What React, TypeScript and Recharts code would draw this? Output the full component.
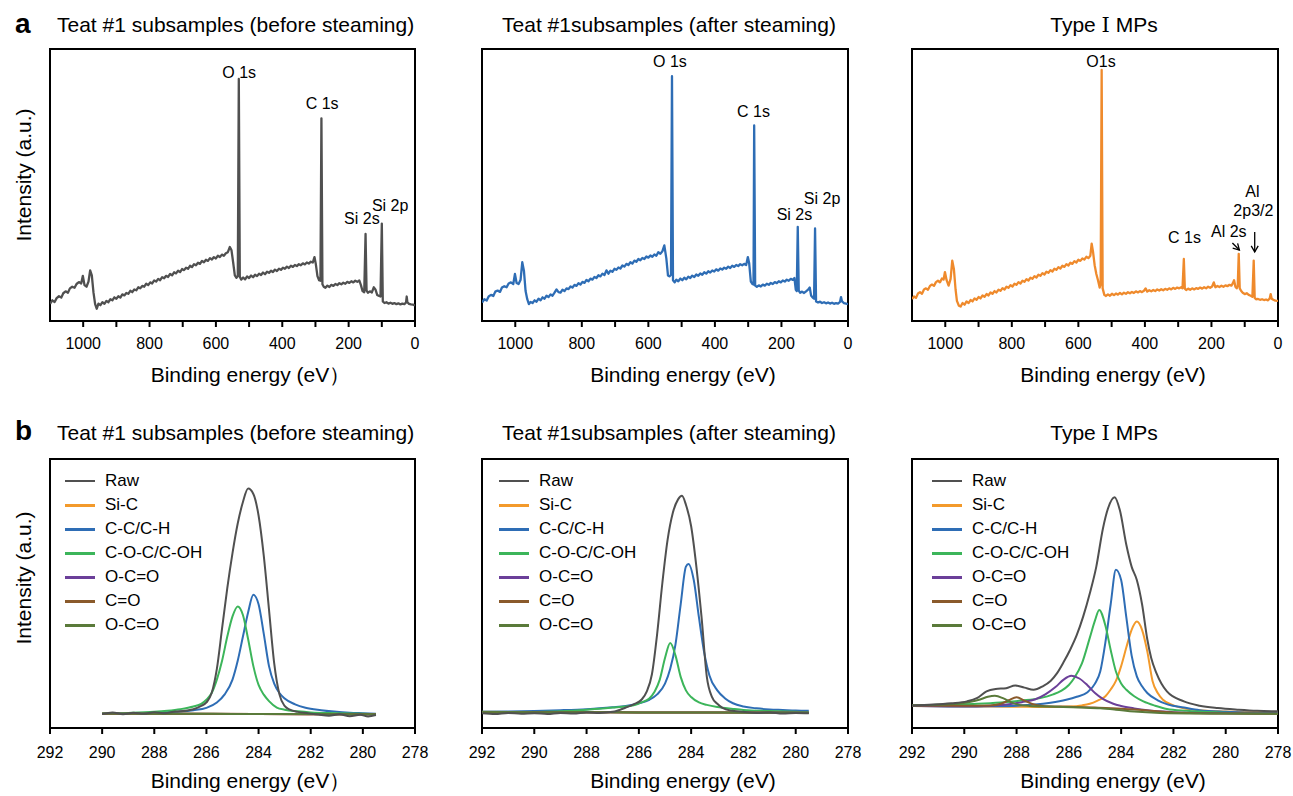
import React from "react";
import {
  LineChart,
  Line,
  XAxis,
  YAxis,
  ReferenceArea,
  ReferenceDot,
  Legend,
} from "recharts";

type Pt = [number, number];

// survey spectra (binding energy eV, relative intensity 0-100 of frame)
const surveyTicks = [1000, 900, 800, 700, 600, 500, 400, 300, 200, 100, 0];
const coreTicks = [292, 290, 288, 286, 284, 282, 280, 278];

const surveyBefore: Pt[] = [
  [1100, 6.3], [1093, 7.6], [1086, 7.0], [1080, 8.4], [1073, 9.1], [1066, 8.6], [1060, 10.2], [1053, 10.9],
  [1046, 10.4], [1040, 12.0], [1033, 12.6], [1026, 12.2], [1020, 13.6], [1013, 14.3], [1006, 13.8], [1001, 16.6],
  [996, 13.2], [990, 12.6], [984, 14.5], [979, 18.6], [974, 16.8], [969, 10.5], [964, 6.2], [959, 4.5],
  [954, 6.4], [948, 5.8], [942, 6.9], [936, 6.3], [930, 7.4], [924, 6.9], [918, 8.0], [912, 7.6], [906, 8.7],
  [900, 8.2], [894, 9.1], [888, 8.6], [882, 9.8], [876, 9.4], [870, 10.3], [864, 10.0], [858, 11.1], [852, 10.6],
  [846, 11.6], [840, 11.3], [834, 12.4], [828, 12.0], [822, 12.9], [816, 12.6], [810, 13.7], [804, 13.2],
  [798, 14.2], [792, 13.8], [786, 14.9], [780, 14.5], [774, 15.5], [768, 15.0], [762, 16.1], [756, 15.7],
  [750, 16.6], [744, 16.2], [738, 17.3], [732, 16.8], [726, 17.9], [720, 17.5], [714, 18.5], [708, 18.0],
  [702, 19.1], [696, 18.7], [690, 19.6], [684, 19.2], [678, 20.3], [672, 19.8], [666, 20.9], [660, 20.5],
  [654, 21.4], [648, 21.0], [642, 22.1], [636, 21.6], [630, 22.5], [624, 22.1], [618, 23.1], [612, 22.6],
  [606, 23.5], [600, 23.0], [594, 24.0], [588, 23.5], [582, 24.4], [576, 24.0], [570, 24.9], [564, 25.3],
  [558, 27.2], [553, 26.0], [548, 21.5], [543, 16.8], [538, 15.9], [534, 16.5], [531, 89.0], [528, 16.3],
  [524, 15.2], [518, 16.0], [512, 15.3], [506, 16.4], [500, 15.8], [494, 16.7], [488, 16.1], [482, 17.0],
  [476, 16.5], [470, 17.4], [464, 16.9], [458, 17.8], [452, 17.2], [446, 18.1], [440, 17.7], [434, 18.5],
  [428, 18.0], [422, 18.9], [416, 18.4], [410, 19.2], [404, 18.8], [398, 19.6], [392, 19.2], [386, 20.0],
  [380, 19.5], [374, 20.3], [368, 19.9], [362, 20.6], [356, 20.2], [350, 20.9], [344, 20.5], [338, 21.2],
  [332, 20.8], [326, 21.5], [320, 21.1], [314, 21.8], [308, 21.5], [303, 23.5], [299, 21.0], [294, 16.5],
  [289, 15.0], [285, 14.8], [282, 74.5], [279, 13.5], [275, 12.6], [270, 12.2], [264, 13.0], [258, 12.5],
  [252, 13.3], [246, 12.9], [240, 13.6], [234, 13.2], [228, 13.9], [222, 13.5], [216, 14.1], [210, 13.7],
  [204, 14.4], [198, 14.0], [192, 14.6], [186, 14.2], [180, 14.8], [174, 14.4], [168, 14.9], [163, 13.2],
  [158, 11.0], [153, 10.6], [149, 32.0], [146, 11.2], [142, 10.4], [136, 10.9], [130, 10.5], [124, 12.4],
  [119, 11.5], [114, 9.6], [108, 9.2], [104, 9.0], [100, 35.8], [97, 7.2], [92, 6.6], [86, 6.9], [80, 6.4],
  [74, 6.7], [68, 6.3], [62, 6.6], [56, 6.2], [50, 6.5], [44, 6.1], [38, 6.4], [32, 6.2], [27, 6.8],
  [25, 9.0], [23, 6.9], [18, 6.3], [12, 6.1], [6, 6.0], [0, 5.7],
];

const surveyAfter: Pt[] = [
  [1100, 6.8], [1093, 8.0], [1086, 7.5], [1080, 9.0], [1073, 9.6], [1066, 9.2], [1060, 10.8], [1053, 11.2],
  [1046, 10.7], [1040, 12.3], [1033, 12.8], [1026, 12.4], [1020, 13.8], [1013, 14.2], [1006, 13.6], [1001, 17.3],
  [996, 14.0], [990, 13.6], [984, 15.2], [979, 21.6], [974, 18.5], [969, 11.0], [964, 8.0], [959, 6.2],
  [954, 7.0], [948, 6.6], [942, 7.6], [936, 7.1], [930, 8.2], [924, 7.6], [918, 8.7], [912, 8.2], [906, 9.3],
  [900, 8.8], [894, 9.8], [888, 9.3], [882, 10.4], [876, 11.6], [870, 10.6], [864, 10.4], [858, 11.5],
  [852, 11.0], [846, 12.0], [840, 11.7], [834, 12.7], [828, 12.3], [822, 13.3], [816, 12.9], [810, 13.9],
  [804, 13.4], [798, 14.4], [792, 14.0], [786, 15.1], [780, 14.6], [774, 15.6], [768, 15.2], [762, 16.2],
  [756, 15.8], [750, 16.8], [744, 16.4], [738, 17.4], [732, 16.9], [726, 18.6], [720, 17.4], [714, 18.5],
  [708, 18.1], [702, 19.2], [696, 18.8], [690, 19.7], [684, 19.3], [678, 20.4], [672, 20.0], [666, 21.0],
  [660, 20.6], [654, 21.6], [648, 21.1], [642, 22.2], [636, 21.8], [630, 22.8], [624, 22.3], [618, 23.2],
  [612, 22.8], [606, 23.7], [600, 23.3], [594, 24.1], [588, 23.6], [582, 24.5], [576, 24.0], [570, 25.3],
  [564, 24.7], [558, 25.6], [552, 27.8], [546, 23.0], [541, 16.7], [536, 16.4], [532, 17.0], [529, 90.0],
  [526, 15.0], [521, 14.2], [516, 15.2], [510, 14.6], [504, 15.6], [498, 15.0], [492, 15.9], [486, 15.3],
  [480, 16.3], [474, 15.8], [468, 16.7], [462, 16.2], [456, 17.1], [450, 16.6], [444, 17.5], [438, 17.0],
  [432, 17.9], [426, 17.4], [420, 18.3], [414, 17.8], [408, 18.6], [402, 18.2], [396, 19.0], [390, 18.5],
  [384, 19.3], [378, 18.9], [372, 19.6], [366, 19.2], [360, 20.0], [354, 19.5], [348, 20.3], [342, 19.9],
  [336, 20.6], [330, 20.2], [324, 20.9], [318, 20.5], [312, 21.0], [306, 20.6], [301, 23.5], [297, 21.2],
  [292, 14.5], [287, 13.6], [284, 13.4], [282, 71.9], [279, 13.0], [274, 12.6], [268, 13.1], [262, 12.7],
  [256, 13.4], [250, 13.0], [244, 13.7], [238, 13.3], [232, 14.0], [226, 13.6], [220, 14.3], [214, 13.9],
  [208, 14.6], [202, 14.2], [196, 14.9], [190, 14.5], [184, 15.2], [178, 14.8], [172, 15.5], [166, 15.1],
  [161, 15.8], [157, 11.5], [154, 11.0], [151, 34.6], [148, 11.2], [144, 10.4], [138, 10.8], [132, 10.3],
  [126, 10.9], [120, 11.5], [115, 12.3], [111, 9.4], [106, 8.6], [102, 8.2], [99, 34.0], [96, 7.2], [90, 6.8],
  [84, 7.1], [78, 6.6], [72, 6.9], [66, 6.5], [60, 6.8], [54, 6.4], [48, 6.7], [42, 6.3], [36, 6.6], [30, 6.4],
  [24, 7.0], [21, 8.8], [18, 7.2], [12, 6.6], [6, 6.4], [0, 6.2],
];

const surveyTypeI: Pt[] = [
  [1100, 8.1], [1094, 9.0], [1088, 8.5], [1082, 10.1], [1076, 10.6], [1070, 10.0], [1064, 11.6], [1058, 12.0],
  [1052, 11.5], [1046, 12.9], [1040, 13.4], [1034, 12.9], [1028, 14.3], [1022, 14.8], [1016, 14.2], [1010, 15.6],
  [1005, 15.2], [1001, 18.0], [996, 15.0], [990, 13.0], [984, 15.5], [979, 22.2], [974, 19.0], [969, 11.5],
  [965, 7.4], [959, 5.6], [954, 5.3], [948, 6.6], [942, 6.0], [936, 7.2], [930, 6.6], [924, 7.7], [918, 7.2],
  [912, 8.3], [906, 7.8], [900, 8.8], [894, 8.3], [888, 9.4], [882, 8.9], [876, 9.9], [870, 9.4], [864, 10.5],
  [858, 10.0], [852, 11.0], [846, 10.5], [840, 11.5], [834, 11.1], [828, 12.1], [822, 11.6], [816, 12.6],
  [810, 12.2], [804, 13.2], [798, 12.7], [792, 13.7], [786, 13.3], [780, 14.3], [774, 13.8], [768, 14.8],
  [762, 14.4], [756, 15.4], [750, 14.9], [744, 15.9], [738, 15.5], [732, 16.5], [726, 16.0], [720, 17.0],
  [714, 16.6], [708, 17.6], [702, 17.1], [696, 18.1], [690, 17.7], [684, 18.7], [678, 18.2], [672, 19.2],
  [666, 18.8], [660, 19.8], [654, 19.3], [648, 20.3], [642, 19.9], [636, 20.9], [630, 20.4], [624, 21.4],
  [618, 21.0], [612, 22.0], [606, 21.5], [600, 22.5], [594, 22.1], [588, 23.0], [582, 22.6], [576, 23.6],
  [570, 23.1], [564, 24.0], [560, 28.4], [556, 25.5], [551, 20.5], [546, 17.3], [541, 15.0], [536, 12.3],
  [533, 13.5], [530, 92.3], [527, 12.0], [522, 9.6], [517, 9.2], [511, 9.8], [505, 9.3], [499, 10.0],
  [493, 9.5], [487, 10.1], [481, 9.7], [475, 10.3], [469, 9.8], [463, 10.4], [457, 10.0], [451, 10.6],
  [445, 10.2], [439, 10.7], [433, 10.3], [427, 10.9], [421, 10.5], [415, 11.0], [409, 10.6], [403, 11.1],
  [398, 12.0], [393, 10.8], [387, 11.3], [381, 10.9], [375, 11.4], [369, 11.0], [363, 11.6], [357, 11.2],
  [351, 11.7], [345, 11.3], [339, 11.8], [333, 11.5], [327, 12.0], [321, 11.6], [315, 12.2], [309, 11.8],
  [303, 12.3], [297, 12.0], [291, 12.4], [287, 12.0], [283, 22.8], [280, 11.9], [276, 11.4], [270, 11.9],
  [264, 11.5], [258, 12.0], [252, 11.6], [246, 12.1], [240, 11.8], [234, 12.3], [228, 11.9], [222, 12.4],
  [216, 12.0], [210, 12.6], [204, 12.2], [198, 12.7], [193, 14.2], [188, 12.4], [182, 12.9], [176, 12.5],
  [170, 13.0], [164, 12.6], [158, 13.1], [152, 12.8], [146, 13.3], [140, 13.0], [136, 13.8], [132, 15.0],
  [128, 12.6], [124, 12.0], [121, 13.0], [118, 24.7], [115, 12.0], [111, 11.1], [106, 10.4], [100, 9.9],
  [94, 10.2], [88, 9.6], [82, 9.3], [77, 8.9], [73, 22.2], [70, 8.5], [66, 8.0], [60, 8.1], [54, 7.8],
  [48, 8.0], [42, 7.7], [36, 7.9], [30, 7.6], [25, 8.3], [22, 9.9], [19, 8.2], [14, 7.8], [8, 7.5], [0, 7.4],
];

// C 1s high-resolution, before steaming
const beforeRaw: Pt[] = [
  [290.0, 5.2], [289.6, 5.8], [289.2, 5.1], [288.8, 5.7], [288.4, 5.3], [288.0, 5.9], [287.6, 5.5], [287.2, 6.1],
  [286.8, 6.4], [286.5, 7.0], [286.2, 8.2], [286.0, 9.5], [285.8, 13], [285.6, 22], [285.4, 37], [285.2, 52],
  [285.0, 65], [284.8, 76], [284.6, 84], [284.4, 89], [284.2, 87], [284.0, 79], [283.8, 64], [283.6, 44],
  [283.4, 24], [283.2, 12.5], [283.0, 8.2], [282.8, 6.8], [282.5, 6.0], [282.1, 5.5], [281.7, 5.0],
  [281.3, 4.6], [280.9, 5.1], [280.5, 4.4], [280.1, 4.9], [279.8, 4.3], [279.5, 4.8],
];
const beforeCC: Pt[] = [
  [290, 5.3], [289, 5.5], [288, 5.7], [287.5, 5.9], [287, 6.1], [286.5, 6.6], [286, 7.5], [285.6, 9.5],
  [285.3, 12.5], [285.0, 18], [284.8, 25], [284.6, 34], [284.4, 43], [284.2, 49.5], [284.0, 46], [283.8, 35],
  [283.6, 23], [283.4, 16.5], [283.2, 13], [283.0, 11], [282.6, 8.8], [282.2, 7.5], [281.6, 6.6], [281, 6.0],
  [280.5, 5.7], [280, 5.5], [279.5, 5.3],
];
const beforeCOC: Pt[] = [
  [290, 5.4], [289, 5.6], [288, 6.0], [287.5, 6.4], [287, 7.0], [286.5, 8.0], [286.2, 9.0], [286, 10.5],
  [285.8, 13], [285.6, 18], [285.4, 25], [285.2, 34], [285.0, 41.5], [284.8, 45.2], [284.6, 42], [284.4, 33],
  [284.2, 23], [284.0, 16], [283.8, 12.4], [283.6, 10], [283.3, 7.6], [283, 6.8], [282.5, 6.2], [282, 5.8],
  [281, 5.5], [280, 5.3], [279.5, 5.2],
];
const beforeSiC: Pt[] = [[290, 5.3], [287, 5.3], [284, 5.2], [281, 5.1], [279.5, 5.1]];
const beforeOCO: Pt[] = [[290, 5.3], [287, 5.3], [284, 5.2], [281, 5.1], [279.5, 5.1]];
const beforeCO: Pt[] = [[290, 5.3], [287, 5.3], [284, 5.2], [281, 5.1], [279.5, 5.1]];
const beforeOCO2: Pt[] = [[290, 5.4], [288, 5.3], [286, 5.3], [284, 5.2], [282, 5.2], [280, 5.1], [279.5, 5.1]];

// C 1s, after steaming
const afterRaw: Pt[] = [
  [292, 5.5], [291.5, 5.2], [291, 5.6], [290.5, 5.3], [290, 5.5], [289.5, 5.2], [289, 5.6], [288.5, 5.4],
  [288, 5.8], [287.5, 5.6], [287, 6.0], [286.5, 7.6], [286.2, 8.8], [285.9, 10.5], [285.7, 13.5], [285.5, 20],
  [285.3, 35], [285.1, 54], [284.9, 70], [284.7, 80], [284.5, 85], [284.35, 86.3], [284.2, 83], [284.0, 75],
  [283.8, 60], [283.6, 41], [283.4, 19], [283.2, 11.5], [283.0, 9], [282.8, 7.5], [282.5, 6.5], [282, 6.0],
  [281.5, 5.6], [281, 5.8], [280.5, 5.4], [280, 5.6], [279.5, 5.5],
];
const afterCC: Pt[] = [
  [292, 6.0], [291, 6.1], [290, 6.3], [289, 6.6], [288, 7.0], [287.5, 7.3], [287, 7.7], [286.5, 8.2],
  [286, 9.2], [285.6, 10.5], [285.3, 12.5], [285.0, 16.5], [284.8, 22], [284.6, 31], [284.4, 46], [284.2, 60],
  [284.1, 61], [283.9, 55], [283.7, 41], [283.5, 28], [283.3, 19.5], [283.0, 14], [282.7, 11], [282.4, 9.2],
  [282, 8.0], [281.5, 7.3], [281, 6.9], [280.5, 6.7], [280, 6.5], [279.5, 6.4],
];
const afterCOC: Pt[] = [
  [292, 5.6], [291, 5.7], [290, 5.9], [289, 6.2], [288, 6.8], [287.5, 7.2], [287, 7.6], [286.5, 8.0],
  [286.2, 8.4], [285.9, 9.5], [285.6, 11], [285.4, 13.5], [285.2, 18], [285.0, 26], [284.8, 31.6], [284.6, 27],
  [284.4, 19], [284.2, 14], [284.0, 11.5], [283.7, 9.5], [283.4, 8.6], [283, 7.8], [282.4, 7.1], [282, 6.7],
  [281, 6.3], [280, 6.0], [279.5, 5.9],
];
const afterSiC: Pt[] = [[292, 5.9], [289, 5.9], [286, 5.8], [283, 5.8], [279.5, 5.7]];
const afterOCO: Pt[] = [[292, 5.9], [289, 5.9], [286, 5.8], [283, 5.8], [279.5, 5.7]];
const afterCO: Pt[] = [[292, 5.9], [289, 5.9], [286, 5.8], [283, 5.8], [279.5, 5.7]];
const afterOCO2: Pt[] = [[292, 6.0], [290, 5.9], [288, 5.9], [286, 5.8], [284, 5.8], [282, 5.7], [279.5, 5.7]];

// C 1s, Type I MPs
const typeRaw: Pt[] = [
  [292, 8.4], [291.2, 8.7], [290.5, 9.2], [289.9, 9.9], [289.5, 11.2], [289.15, 13.6], [288.8, 14.5],
  [288.4, 14.8], [288.05, 15.8], [287.7, 15.0], [287.35, 14.2], [287.0, 15.5], [286.7, 17.5], [286.45, 20.4],
  [286.2, 24.5], [285.95, 29.1], [285.7, 34.5], [285.45, 41.5], [285.2, 50], [284.95, 60], [284.7, 74],
  [284.5, 81.7], [284.25, 85.8], [284.05, 81], [283.8, 68], [283.6, 60], [283.4, 55], [283.2, 46], [283.0, 33],
  [282.85, 26], [282.65, 20.4], [282.25, 13.6], [281.6, 9.9], [281.0, 8.3], [280.3, 7.4], [279.5, 6.8],
  [278.8, 6.4], [278, 6.2],
];
const typeSiC: Pt[] = [
  [292, 8.2], [290, 8.0], [288, 7.9], [287, 7.8], [286, 8.0], [285.5, 8.4], [285.2, 9.0], [284.9, 10.2],
  [284.6, 11.8], [284.4, 14.3], [284.2, 17.5], [284.0, 23], [283.8, 30], [283.6, 36.5], [283.4, 39.6],
  [283.2, 36.5], [283.0, 28.5], [282.8, 17.5], [282.6, 13.0], [282.4, 10.5], [282.0, 8.4], [281.6, 7.3],
  [281, 6.6], [280.3, 6.2], [279, 5.9], [278, 5.7],
];
const typeCC: Pt[] = [
  [292, 8.3], [290, 8.0], [289, 8.1], [288, 8.3], [287.3, 8.7], [286.7, 9.4], [286.1, 10.5], [285.7, 11.6],
  [285.3, 13.2], [285.0, 16.5], [284.8, 21], [284.6, 32], [284.4, 46], [284.2, 58.8], [284.0, 55], [283.8, 41],
  [283.6, 27], [283.4, 19.2], [283.2, 15.5], [283.0, 13], [282.6, 10.3], [282.2, 8.7], [281.6, 7.6], [281, 6.6],
  [280, 6.0], [279, 5.7], [278, 5.6],
];
const typeCOC: Pt[] = [
  [292, 8.4], [290.5, 8.7], [289.5, 9.0], [288.6, 9.5], [287.8, 10.2], [287.1, 11.1], [286.6, 12.5],
  [286.3, 13.8], [286.0, 16], [285.8, 18.5], [285.5, 24], [285.2, 33.5], [285.0, 40], [284.84, 43.9],
  [284.6, 38], [284.4, 29], [284.2, 21], [284.0, 16.5], [283.8, 14.2], [283.5, 11.8], [283.15, 9.9],
  [282.7, 8.3], [282.25, 7.1], [281.5, 6.4], [280.3, 5.8], [279, 5.5], [278, 5.4],
];
const typeOCO: Pt[] = [
  [292, 8.2], [290, 8.1], [289, 8.3], [288.3, 8.8], [287.8, 9.6], [287.3, 10.6], [286.9, 12.5], [286.5, 15.3],
  [286.2, 18], [285.9, 19.4], [285.6, 18.4], [285.3, 16], [285.0, 13], [284.7, 10.8], [284.3, 9.0], [284, 8.2],
  [283.5, 7.3], [283, 6.6], [282, 5.9], [281, 5.6], [280, 5.5], [278, 5.4],
];
const typeCO: Pt[] = [
  [292, 8.4], [290, 8.3], [289, 8.4], [288.6, 9.0], [288.3, 10.3], [288.0, 11.4], [287.7, 10.2], [287.4, 8.9],
  [287, 8.2], [286, 7.9], [285, 7.6], [284, 7.2], [283.5, 6.9], [283, 6.5], [282, 5.8], [280, 5.4], [278, 5.3],
];
const typeOCO2: Pt[] = [
  [292, 8.4], [291, 8.6], [290.3, 9.0], [289.8, 9.7], [289.4, 10.6], [289.1, 11.6], [288.83, 12], [288.5, 11],
  [288.2, 9.5], [287.9, 8.6], [287.5, 8.2], [286.5, 7.9], [285.5, 7.6], [284.8, 7.3], [284.2, 6.8], [283.5, 6.1],
  [282.5, 5.6], [281, 5.4], [278, 5.3],
];

const legendNames = ["Raw", "Si-C", "C-C/C-H", "C-O-C/C-OH", "O-C=O", "C=O", "O-C=O"];
const legendColors = ["#505050", "#f39a2b", "#2e6db5", "#3cb55a", "#6b3f99", "#8a5a2b", "#5a7a3a"];

type Note = { text: string; x: number; y: number };
type ArrowNote = { x: number; y: number; dx: number; dy: number };

const notesBefore: Note[] = [
  { text: "O 1s", x: 530, y: 89.5 },
  { text: "C 1s", x: 280, y: 78 },
  { text: "Si 2s", x: 160, y: 35.5 },
  { text: "Si 2p", x: 75, y: 40.5 },
];
const notesAfter: Note[] = [
  { text: "O 1s", x: 535, y: 93.4 },
  { text: "C 1s", x: 284, y: 75 },
  { text: "Si 2s", x: 161, y: 37 },
  { text: "Si 2p", x: 78, y: 43 },
];
const notesTypeI: Note[] = [
  { text: "O1s", x: 532, y: 93.4 },
  { text: "C 1s", x: 281, y: 28.7 },
  { text: "Al 2s", x: 148, y: 30.9 },
  { text: "Al", x: 77, y: 45.6 },
  { text: "2p3/2", x: 74, y: 38.5 },
];
const arrowsTypeI: ArrowNote[] = [
  { x: 116, y: 26.1, dx: 7, dy: 7 },
  { x: 70, y: 25.4, dx: 0, dy: 20 },
];

const FONT = "'Liberation Sans', Arial, 'DejaVu Sans', sans-serif";

const toData = (pts: Pt[]) => pts.map(([x, y]) => ({ x, y }));

const arrowShape = (dx: number, dy: number) => (p: any) => {
  const { cx, cy } = p;
  const len = Math.hypot(dx, dy);
  const ux = dx / len;
  const uy = dy / len;
  const bx = cx - ux * 6;
  const by = cy - uy * 6;
  return (
    <g stroke="#000" strokeWidth={1.3} fill="none">
      <line x1={cx - dx} y1={cy - dy} x2={cx} y2={cy} />
      <polyline points={`${bx - uy * 3.5},${by + ux * 3.5} ${cx},${cy} ${bx + uy * 3.5},${by - ux * 3.5}`} />
    </g>
  );
};

const LegendBox = () => (
  <div style={{ fontFamily: FONT, fontSize: 17, color: "#000" }}>
    {legendNames.map((n, i) => (
      <div key={i} style={{ display: "flex", alignItems: "center", height: 24 }}>
        <div
          style={{
            width: 30,
            height: i === 0 ? 2 : 3,
            background: legendColors[i],
            marginRight: 10,
          }}
        />
        <span>{n}</span>
      </div>
    ))}
  </div>
);

type Series = { color: string; points: Pt[] };

type PanelProps = {
  left: number;
  top: number;
  width: number;
  height: number;
  marginTop: number;
  axisHeight: number;
  labelOffset: number;
  tickMargin: number;
  domain: [number, number];
  ticks: number[];
  survey: boolean;
  series: Series[];
  xTitle: string;
  notes?: Note[];
  arrows?: ArrowNote[];
  legendLeft?: number;
};

const Panel = (p: PanelProps) => (
  <div style={{ position: "absolute", left: p.left, top: p.top }}>
    <LineChart
      width={p.width}
      height={p.height}
      margin={{ top: p.marginTop, right: 15, bottom: 0, left: 40 }}
    >
      <XAxis
        type="number"
        dataKey="x"
        domain={p.domain}
        reversed
        allowDataOverflow
        ticks={p.ticks}
        interval={0}
        tickFormatter={(v: number) => (p.survey && v % 200 !== 0 ? "" : String(v))}
        tickSize={6}
        tickMargin={p.tickMargin}
        tickLine={{ stroke: "#000", strokeWidth: 2 }}
        axisLine={false}
        tick={{ fill: "#000", fontSize: 16 }}
        height={p.axisHeight}
        label={{
          value: p.xTitle,
          position: "insideBottom",
          offset: p.labelOffset,
          dx: 18,
          fill: "#000",
          fontSize: 21,
        }}
      />
      <YAxis type="number" domain={[0, 100]} hide />
      {p.series.map((s, i) => (
        <Line
          key={i}
          data={toData(s.points)}
          dataKey="y"
          type={p.survey ? "linear" : "monotone"}
          stroke={s.color}
          strokeWidth={p.survey ? 2.3 : 2}
          strokeLinejoin="round"
          dot={false}
          activeDot={false}
          isAnimationActive={false}
        />
      ))}
      <ReferenceArea
        x1={p.domain[0]}
        x2={p.domain[1]}
        y1={0}
        y2={100}
        fill="none"
        fillOpacity={0}
        stroke="#000"
        strokeWidth={2}
        ifOverflow="visible"
      />
      {(p.notes || []).map((n, i) => (
        <ReferenceDot
          key={`n${i}`}
          x={n.x}
          y={n.y}
          r={0}
          ifOverflow="visible"
          shape={(sp: any) => (
            <text x={sp.cx} y={sp.cy} textAnchor="middle" fontSize={16} fill="#000">
              {n.text}
            </text>
          )}
        />
      ))}
      {(p.arrows || []).map((a, i) => (
        <ReferenceDot
          key={`a${i}`}
          x={a.x}
          y={a.y}
          r={0}
          ifOverflow="visible"
          shape={arrowShape(a.dx, a.dy)}
        />
      ))}
      {p.legendLeft !== undefined && (
        <Legend
          layout="horizontal"
          verticalAlign="middle"
          align="center"
          wrapperStyle={{ left: p.legendLeft, top: 69, width: 200, height: 170 }}
          content={() => <LegendBox />}
        />
      )}
    </LineChart>
  </div>
);

const textStyle: React.CSSProperties = {
  position: "absolute",
  fontFamily: FONT,
  fontSize: 21,
  lineHeight: "24px",
  color: "#000",
  whiteSpace: "nowrap",
};

const romanStyle: React.CSSProperties = { fontFamily: "'DejaVu Serif', 'Liberation Serif', serif" };

const coreSeries = (raw: Pt[], sic: Pt[], cc: Pt[], coc: Pt[], oco: Pt[], co: Pt[], oco2: Pt[]): Series[] => [
  { color: legendColors[1], points: sic },
  { color: legendColors[2], points: cc },
  { color: legendColors[3], points: coc },
  { color: legendColors[4], points: oco },
  { color: legendColors[5], points: co },
  { color: legendColors[6], points: oco2 },
  { color: legendColors[0], points: raw },
];

export default function App() {
  const top = { top: 0, height: 400, marginTop: 49, axisHeight: 79, labelOffset: 18, tickMargin: 11 };
  const bottom = { top: 400, height: 396, marginTop: 59, axisHeight: 68, labelOffset: 8, tickMargin: 13 };
  const cols = [10, 442, 872];
  const widths = [420, 421, 421];
  return (
    <div
      style={{
        position: "absolute",
        left: 0,
        top: 0,
        width: 1293,
        height: 796,
        background: "#fff",
        fontFamily: FONT,
      }}
    >
      <Panel
        left={cols[0]} width={widths[0]} {...top}
        domain={[0, 1100]} ticks={surveyTicks} survey
        series={[{ color: "#505050", points: surveyBefore }]}
        xTitle="Binding energy (eV）" notes={notesBefore}
      />
      <Panel
        left={cols[1]} width={widths[1]} {...top}
        domain={[0, 1100]} ticks={surveyTicks} survey
        series={[{ color: "#2e6db5", points: surveyAfter }]}
        xTitle="Binding energy (eV)" notes={notesAfter}
      />
      <Panel
        left={cols[2]} width={widths[2]} {...top}
        domain={[0, 1100]} ticks={surveyTicks} survey
        series={[{ color: "#ef8a2c", points: surveyTypeI }]}
        xTitle="Binding energy (eV)" notes={notesTypeI} arrows={arrowsTypeI}
      />
      <Panel
        left={cols[0]} width={widths[0]} {...bottom}
        domain={[278, 292]} ticks={coreTicks} survey={false}
        series={coreSeries(beforeRaw, beforeSiC, beforeCC, beforeCOC, beforeOCO, beforeCO, beforeOCO2)}
        xTitle="Binding energy (eV）" legendLeft={55}
      />
      <Panel
        left={cols[1]} width={widths[1]} {...bottom}
        domain={[278, 292]} ticks={coreTicks} survey={false}
        series={coreSeries(afterRaw, afterSiC, afterCC, afterCOC, afterOCO, afterCO, afterOCO2)}
        xTitle="Binding energy (eV)" legendLeft={57}
      />
      <Panel
        left={cols[2]} width={widths[2]} {...bottom}
        domain={[278, 292]} ticks={coreTicks} survey={false}
        series={coreSeries(typeRaw, typeSiC, typeCC, typeCOC, typeOCO, typeCO, typeOCO2)}
        xTitle="Binding energy (eV)" legendLeft={60}
      />

      <div style={{ ...textStyle, left: 15, top: 8, fontSize: 28, lineHeight: "32px", fontWeight: "bold" }}>a</div>
      <div style={{ ...textStyle, left: 15, top: 415, fontSize: 28, lineHeight: "32px", fontWeight: "bold" }}>b</div>

      <div style={{ ...textStyle, left: 57, top: 13 }}>Teat #1 subsamples (before steaming)</div>
      <div style={{ ...textStyle, left: 469, top: 13, width: 400, textAlign: "center" }}>Teat #1subsamples (after steaming)</div>
      <div style={{ ...textStyle, left: 904, top: 13, width: 400, textAlign: "center" }}>
        Type <span style={romanStyle}>Ⅰ</span> MPs
      </div>
      <div style={{ ...textStyle, left: 57, top: 421 }}>Teat #1 subsamples (before steaming)</div>
      <div style={{ ...textStyle, left: 469, top: 421, width: 400, textAlign: "center" }}>Teat #1subsamples (after steaming)</div>
      <div style={{ ...textStyle, left: 904, top: 421, width: 400, textAlign: "center" }}>
        Type <span style={romanStyle}>Ⅰ</span> MPs
      </div>

      <div style={{ ...textStyle, left: 24 - 100, top: 175 - 12, width: 200, textAlign: "center", transform: "rotate(-90deg)" }}>
        Intensity (a.u.)
      </div>
      <div style={{ ...textStyle, left: 24 - 100, top: 578 - 12, width: 200, textAlign: "center", transform: "rotate(-90deg)" }}>
        Intensity (a.u.)
      </div>
    </div>
  );
}
